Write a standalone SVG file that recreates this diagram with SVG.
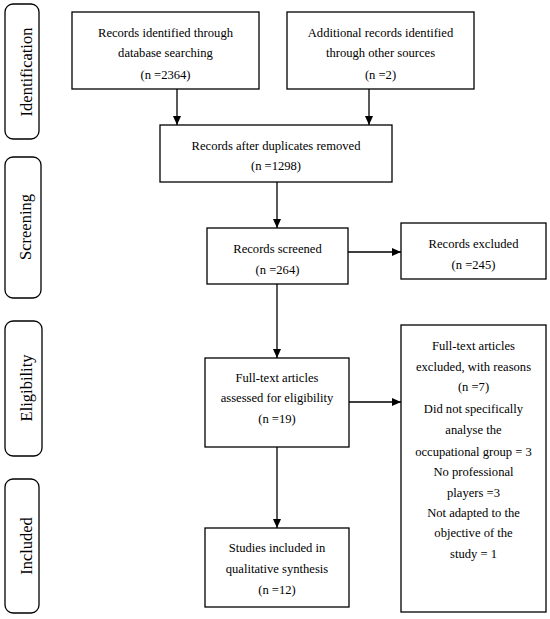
<svg xmlns="http://www.w3.org/2000/svg" width="550" height="619" viewBox="0 0 550 619">
<defs>
<marker id="ah" markerWidth="10" markerHeight="8" refX="9" refY="4" orient="auto" markerUnits="userSpaceOnUse">
<path d="M0,0 L9,4 L0,8 Z" fill="#000"/>
</marker>
<style>
.box{fill:#fff;stroke:#000;stroke-width:1.3}
.side{fill:#fff;stroke:#000;stroke-width:1.3}
.t{font-family:"Liberation Serif","Times New Roman",serif;font-size:12.6px;fill:#000;text-anchor:middle}
.s{font-family:"Liberation Serif","Times New Roman",serif;font-size:16.5px;fill:#000;text-anchor:middle}
.c{stroke:#000;stroke-width:1.3;fill:none;marker-end:url(#ah)}
</style>
</defs>
<rect width="550" height="619" fill="#fff"/>
<g id="phase-identification"><rect class="side" x="5" y="4" width="34" height="135" rx="8"/><text class="s" transform="translate(32,72) rotate(-90)">Identification</text></g>
<g id="phase-screening"><rect class="side" x="5" y="157" width="36" height="141" rx="8"/><text class="s" transform="translate(31,227) rotate(-90)">Screening</text></g>
<g id="phase-eligibility"><rect class="side" x="5" y="321" width="37" height="135" rx="8"/><text class="s" transform="translate(32,388) rotate(-90)">Eligibility</text></g>
<g id="phase-included"><rect class="side" x="5" y="479" width="34" height="134" rx="8"/><text class="s" transform="translate(32,546) rotate(-90)">Included</text></g>

<g id="n1"><rect class="box" x="72" y="12" width="187" height="77"/>
<text class="t" x="165.5" y="37">Records identified through</text>
<text class="t" x="165.5" y="57">database searching</text>
<text class="t" x="165.5" y="79">(n =2364)</text></g>
<g id="n2"><rect class="box" x="287" y="12" width="187" height="77"/>
<text class="t" x="380.5" y="37">Additional records identified</text>
<text class="t" x="380.5" y="57">through other sources</text>
<text class="t" x="380.5" y="79">(n =2)</text></g>
<g id="n3"><rect class="box" x="160" y="125" width="232" height="57"/>
<text class="t" x="276" y="150">Records after duplicates removed</text>
<text class="t" x="276" y="170">(n =1298)</text></g>
<g id="n4"><rect class="box" x="207" y="228" width="141" height="56"/>
<text class="t" x="277.5" y="253">Records screened</text>
<text class="t" x="277.5" y="274">(n =264)</text></g>
<g id="n5"><rect class="box" x="401" y="223" width="145" height="56"/>
<text class="t" x="473.5" y="248">Records excluded</text>
<text class="t" x="473.5" y="269">(n =245)</text></g>
<g id="n6"><rect class="box" x="401" y="325" width="145" height="287"/>
<text class="t" x="473.5" y="350">Full-text articles</text>
<text class="t" x="473.5" y="371">excluded, with reasons</text>
<text class="t" x="473.5" y="391">(n =7)</text>
<text class="t" x="473.5" y="413">Did not specifically</text>
<text class="t" x="473.5" y="434">analyse the</text>
<text class="t" x="473.5" y="456">occupational group = 3</text>
<text class="t" x="473.5" y="476">No professional</text>
<text class="t" x="473.5" y="497">players =3</text>
<text class="t" x="473.5" y="517">Not adapted to the</text>
<text class="t" x="473.5" y="537">objective of the</text>
<text class="t" x="473.5" y="558">study = 1</text></g>
<g id="n7"><rect class="box" x="205" y="358" width="144" height="89"/>
<text class="t" x="277" y="382">Full-text articles</text>
<text class="t" x="277" y="402">assessed for eligibility</text>
<text class="t" x="277" y="423">(n =19)</text></g>
<g id="n8"><rect class="box" x="205" y="528" width="144" height="79"/>
<text class="t" x="277" y="552">Studies included in</text>
<text class="t" x="277" y="573">qualitative synthesis</text>
<text class="t" x="277" y="594">(n =12)</text></g>

<g id="connectors">
<line class="c" x1="177" y1="89" x2="177" y2="125"/>
<line class="c" x1="369" y1="89" x2="369" y2="125"/>
<line class="c" x1="277" y1="182" x2="277" y2="228"/>
<line class="c" x1="348" y1="252" x2="401" y2="252"/>
<line class="c" x1="277" y1="284" x2="277" y2="358"/>
<line class="c" x1="349" y1="402" x2="401" y2="402"/>
<line class="c" x1="277" y1="447" x2="277" y2="528"/>
</g>
</svg>
